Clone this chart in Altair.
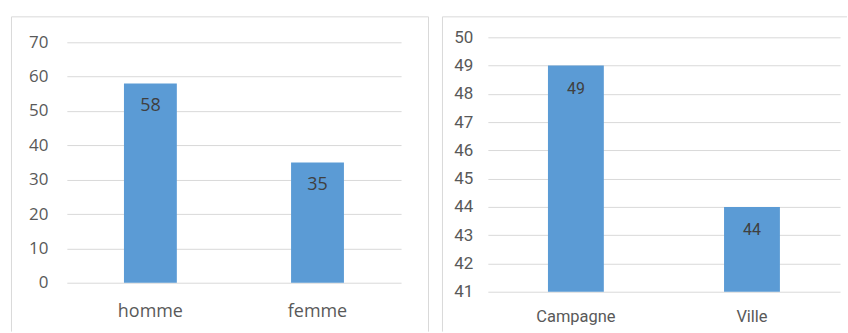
import altair as alt
import pandas as pd

# Répartition par sexe
sexe = ["homme", "femme"]
effectif_sexe = [58, 35]
sexe_ticks = [0, 10, 20, 30, 40, 50, 60, 70]

# Répartition par milieu de résidence
milieu = ["Campagne", "Ville"]
effectif_milieu = [49, 44]
milieu_ticks = [41, 42, 43, 44, 45, 46, 47, 48, 49, 50]

BLUE = "#5b9bd5"
GRID = "#d9d9d9"
FRAME = "#d9d9d9"
LABEL = "#595959"
VALUE = "#404040"


def frame_rules(x1, y1, x2, y2, right_edge=True):
    """Light border around a chart area (top, left and optionally right)."""
    one = pd.DataFrame({"k": [0]})
    rule = alt.Chart(one).mark_rule(color=FRAME, strokeWidth=1)
    rules = [
        rule.encode(x=alt.value(x1), x2=alt.value(x2), y=alt.value(y1)),
        rule.encode(x=alt.value(x1), y=alt.value(y1), y2=alt.value(y2)),
    ]
    if right_edge:
        rules.append(rule.encode(x=alt.value(x2), y=alt.value(y1), y2=alt.value(y2)))
    return rules


def panel(cats, vals, ticks, width, height, top_gap, bar_size, font,
          fs_y, fs_x, fs_v, ypad, xpad, dy, frame, right_edge):
    df = pd.DataFrame({"cat": cats, "val": vals})
    x = alt.X(
        "cat:N", sort=cats,
        scale=alt.Scale(paddingInner=0, paddingOuter=0),
        axis=alt.Axis(title=None, labelAngle=0, ticks=False, tickSize=0,
                      domain=False, grid=False, labelFont=font,
                      labelFontSize=fs_x, labelColor=LABEL,
                      labelPadding=xpad, labelBaseline="alphabetic"),
    )
    y = alt.Y(
        "val:Q",
        scale=alt.Scale(domain=[ticks[0], ticks[-1]], nice=False, zero=False,
                        range=[height, top_gap]),
        axis=alt.Axis(title=None, values=ticks, ticks=False, tickSize=0,
                      domain=False, grid=True, gridColor=GRID, gridWidth=1,
                      labelFont=font, labelFontSize=fs_y, labelColor=LABEL,
                      labelPadding=ypad, labelOverlap=False),
    )
    base = alt.Chart(df).encode(x=x, y=y)
    bars = base.mark_bar(color=BLUE, size=bar_size).encode(y2=alt.datum(ticks[0]))
    labels = base.mark_text(
        font=font, fontSize=fs_v, color=VALUE, baseline="middle", dy=dy
    ).encode(text="val:Q")
    return alt.layer(*frame_rules(*frame, right_edge=right_edge), bars, labels).properties(
        width=width, height=height
    )


left_font = "'Open Sans', 'Noto Sans', sans-serif"
right_font = "Roboto, 'Open Sans', sans-serif"

gauche = panel(sexe, effectif_sexe, sexe_ticks, 335, 246, 5, 53, left_font,
               17, 18, 18, 19, 34, 23, (-55.5, -20.5, 362.5, 295), True)
droite = panel(milieu, effectif_milieu, milieu_ticks, 353, 255, 0, 56,
               right_font, 17, 16.5, 16, 15, 30, 23, (-45.5, -20.5, 360, 295), False)

chart = alt.hconcat(gauche, droite, spacing=13).properties(
    padding={"left": 11, "top": 16, "right": 0, "bottom": 0}
).configure_view(stroke=None)

chart.save("out.html", embed_options={"renderer": "svg", "actions": False})
